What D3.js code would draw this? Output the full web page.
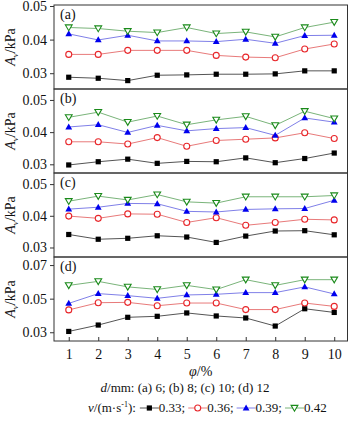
<!DOCTYPE html>
<html>
<head>
<meta charset="utf-8">
<script src="https://cdn.jsdelivr.net/npm/d3@7"></script>
<style>
  body { margin: 0; background: #fff; }
  svg, svg text { font-family: "Liberation Serif", "Times New Roman", serif !important; }
</style>
</head>
<body>
<div id="container"></div>
<script>
// porosity φ (%)
const phi = [1, 2, 3, 4, 5, 6, 7, 8, 9, 10];
const speeds = ["0.33", "0.36", "0.39", "0.42"];
const panelNames = ["(a)", "(b)", "(c)", "(d)"];

// (a) d = 6 mm
const a033 = [0.0288, 0.0285, 0.0278, 0.0294, 0.0295, 0.0297, 0.0297, 0.0298, 0.0307, 0.0307];
const a036 = [0.0356, 0.0356, 0.0368, 0.0368, 0.0368, 0.0353, 0.0348, 0.0346, 0.0372, 0.0387];
const a039 = [0.0417, 0.0399, 0.0413, 0.0396, 0.0396, 0.0394, 0.0401, 0.0389, 0.0412, 0.0413];
const a042 = [0.0436, 0.0433, 0.0425, 0.0421, 0.0436, 0.0418, 0.0423, 0.0408, 0.0436, 0.0452];
// (b) d = 8 mm
const b033 = [0.0298, 0.0308, 0.0316, 0.0303, 0.0309, 0.0308, 0.0320, 0.0305, 0.0318, 0.0335];
const b036 = [0.0370, 0.0370, 0.0363, 0.0383, 0.0356, 0.0374, 0.0378, 0.0382, 0.0398, 0.0380];
const b039 = [0.0416, 0.0423, 0.0399, 0.0421, 0.0404, 0.0411, 0.0414, 0.0390, 0.0444, 0.0431];
const b042 = [0.0446, 0.0462, 0.0431, 0.0450, 0.0423, 0.0438, 0.0449, 0.0421, 0.0465, 0.0442];
// (c) d = 10 mm
const c033 = [0.0341, 0.0326, 0.0329, 0.0337, 0.0333, 0.0316, 0.0336, 0.0352, 0.0353, 0.0340];
const c036 = [0.0399, 0.0392, 0.0406, 0.0405, 0.0379, 0.0394, 0.0370, 0.0379, 0.0389, 0.0387];
const c039 = [0.0421, 0.0427, 0.0439, 0.0438, 0.0414, 0.0412, 0.0420, 0.0422, 0.0423, 0.0449];
const c042 = [0.0446, 0.0462, 0.0450, 0.0467, 0.0444, 0.0440, 0.0460, 0.0460, 0.0460, 0.0464];
// (d) d = 12 mm
const d033 = [0.0305, 0.0343, 0.0389, 0.0395, 0.0415, 0.0397, 0.0385, 0.0337, 0.0440, 0.0418];
const d036 = [0.0433, 0.0476, 0.0478, 0.0458, 0.0474, 0.0474, 0.0435, 0.0435, 0.0474, 0.0454];
const d039 = [0.0472, 0.0530, 0.0518, 0.0502, 0.0522, 0.0526, 0.0536, 0.0536, 0.0570, 0.0528];
const d042 = [0.0579, 0.0603, 0.0570, 0.0555, 0.0579, 0.0554, 0.0613, 0.0579, 0.0613, 0.0613];

const ticksABC = [0.03, 0.04, 0.05];
const ticksD = [0.03, 0.05, 0.07];

const panels = [
  {name: panelNames[0], series: [a033, a036, a039, a042], domain: [0.0253, 0.0503], ticks: ticksABC},
  {name: panelNames[1], series: [b033, b036, b039, b042], domain: [0.0273, 0.0534], ticks: ticksABC},
  {name: panelNames[2], series: [c033, c036, c039, c042], domain: [0.0270, 0.0535], ticks: ticksABC},
  {name: panelNames[3], series: [d033, d036, d039, d042], domain: [0.0248, 0.0748], ticks: ticksD}
];

const markColor = ["#000000", "#e8262a", "#0000ee", "#1a8a1a"];
const lineColor = ["#555555", "#e87a7a", "#8080e8", "#7ab47a"];
const markType = ["square", "circle", "triangle", "down"];

const W = 350, H = 421;
const plotLeft = 54, plotRight = 347.5, plotTop = 5, panelH = 84;

const svg = d3.select("#container").append("svg")
  .attr("width", W).attr("height", H);

const x = d3.scaleLinear().domain([0.5, 10.45]).range([plotLeft, plotRight]);

function drawMarker(g, type, cx, cy, col) {
  if (type === "square") {
    g.append("rect").attr("x", cx - 2.6).attr("y", cy - 2.6)
      .attr("width", 5.2).attr("height", 5.2).attr("fill", col);
  } else if (type === "circle") {
    g.append("circle").attr("cx", cx).attr("cy", cy).attr("r", 3)
      .attr("fill", "#fff").attr("stroke", col).attr("stroke-width", 1.1);
  } else if (type === "triangle") {
    g.append("path")
      .attr("d", `M${cx},${cy - 3.6}L${cx + 3.4},${cy + 2.4}L${cx - 3.4},${cy + 2.4}Z`)
      .attr("fill", col);
  } else {
    g.append("path")
      .attr("d", `M${cx - 3.4},${cy - 2.6}L${cx + 3.4},${cy - 2.6}L${cx},${cy + 3.2}Z`)
      .attr("fill", "#fff").attr("stroke", col).attr("stroke-width", 1.1);
  }
}

panels.forEach((p, pi) => {
  const y0 = plotTop + pi * panelH;
  const y = d3.scaleLinear().domain(p.domain).range([y0 + panelH, y0]);
  const g = svg.append("g");

  // frame
  g.append("rect")
    .attr("x", plotLeft).attr("y", y0)
    .attr("width", plotRight - plotLeft).attr("height", panelH)
    .attr("fill", "none").attr("stroke", "#333").attr("stroke-width", 1);

  // y axis
  const ya = g.append("g")
    .attr("transform", `translate(${plotLeft},0)`)
    .call(d3.axisLeft(y).tickValues(p.ticks).tickFormat(d3.format(".2f")).tickSize(4).tickPadding(3));
  ya.attr("font-family", null).attr("font-size", null);
  ya.select(".domain").remove();
  ya.selectAll("line").attr("stroke", "#333");
  ya.selectAll("text").style("font-size", "14px").attr("fill", "#111");

  // y label
  const lab = g.append("text")
    .attr("transform", `translate(15,${y0 + panelH / 2}) rotate(-90)`)
    .attr("text-anchor", "middle")
    .style("font-size", "14px").attr("fill", "#111");
  lab.append("tspan").style("font-style", "italic").text("A");
  lab.append("tspan").style("font-style", "italic").style("font-size", "9px").attr("dy", 3).text("v");
  lab.append("tspan").attr("dy", -3).text("/kPa");

  // panel letter
  g.append("text")
    .attr("x", plotLeft + 6).attr("y", y0 + 14)
    .style("font-size", "14px").attr("fill", "#111")
    .text(p.name);

  const line = d3.line().x((d, i) => x(phi[i])).y(d => y(d));

  p.series.forEach((vals, si) => {
    g.append("path").datum(vals)
      .attr("d", line)
      .attr("fill", "none")
      .attr("stroke", lineColor[si])
      .attr("stroke-width", 1);
  });
  p.series.forEach((vals, si) => {
    vals.forEach((v, i) => drawMarker(g, markType[si], x(phi[i]), y(v), markColor[si]));
  });

  if (pi === panels.length - 1) {
    const bottom = y0 + panelH;
    const xa = g.append("g")
      .attr("transform", `translate(0,${bottom})`)
      .call(d3.axisBottom(x).tickValues(phi).tickFormat(d3.format("d")).tickSize(-4).tickPadding(8));
    xa.attr("font-family", null).attr("font-size", null);
    xa.select(".domain").remove();
    xa.selectAll("line").attr("stroke", "#333");
    xa.selectAll("text").style("font-size", "14px").attr("fill", "#111");

    const xl = svg.append("text")
      .attr("x", (plotLeft + plotRight) / 2).attr("y", bottom + 35)
      .attr("text-anchor", "middle").style("font-size", "14px").attr("fill", "#111");
    xl.append("tspan").style("font-style", "italic").text("φ");
    xl.append("tspan").text("/%");
  }
});

// caption
const cap = svg.append("text")
  .attr("x", 185).attr("y", 392)
  .attr("text-anchor", "middle").style("font-size", "13px").attr("fill", "#111");
cap.append("tspan").style("font-style", "italic").text("d");
cap.append("tspan").text("/mm: (a) 6; (b) 8; (c) 10; (d) 12");

// legend
const leg = svg.append("g").attr("transform", "translate(88,412)");
const lt = leg.append("text").attr("x", 0).attr("y", 0)
  .style("font-size", "13px").attr("fill", "#111");
lt.append("tspan").style("font-style", "italic").text("v");
lt.append("tspan").text("/(m·s");
lt.append("tspan").style("font-size", "8px").attr("dy", -5).text("-1");
lt.append("tspan").attr("dy", 5).text("):");
let cx = lt.node().getComputedTextLength() + 4;
speeds.forEach((s, i) => {
  leg.append("line")
    .attr("x1", cx).attr("x2", cx + 19).attr("y1", -4).attr("y2", -4)
    .attr("stroke", lineColor[i]).attr("stroke-width", 1);
  drawMarker(leg, markType[i], cx + 9.5, -4, markColor[i]);
  cx += 19;
  const t = leg.append("text").attr("x", cx).attr("y", 0)
    .style("font-size", "13px").attr("fill", "#111")
    .text(s + (i < speeds.length - 1 ? ";" : ""));
  cx += t.node().getComputedTextLength() + 3;
});
</script>
</body>
</html>
